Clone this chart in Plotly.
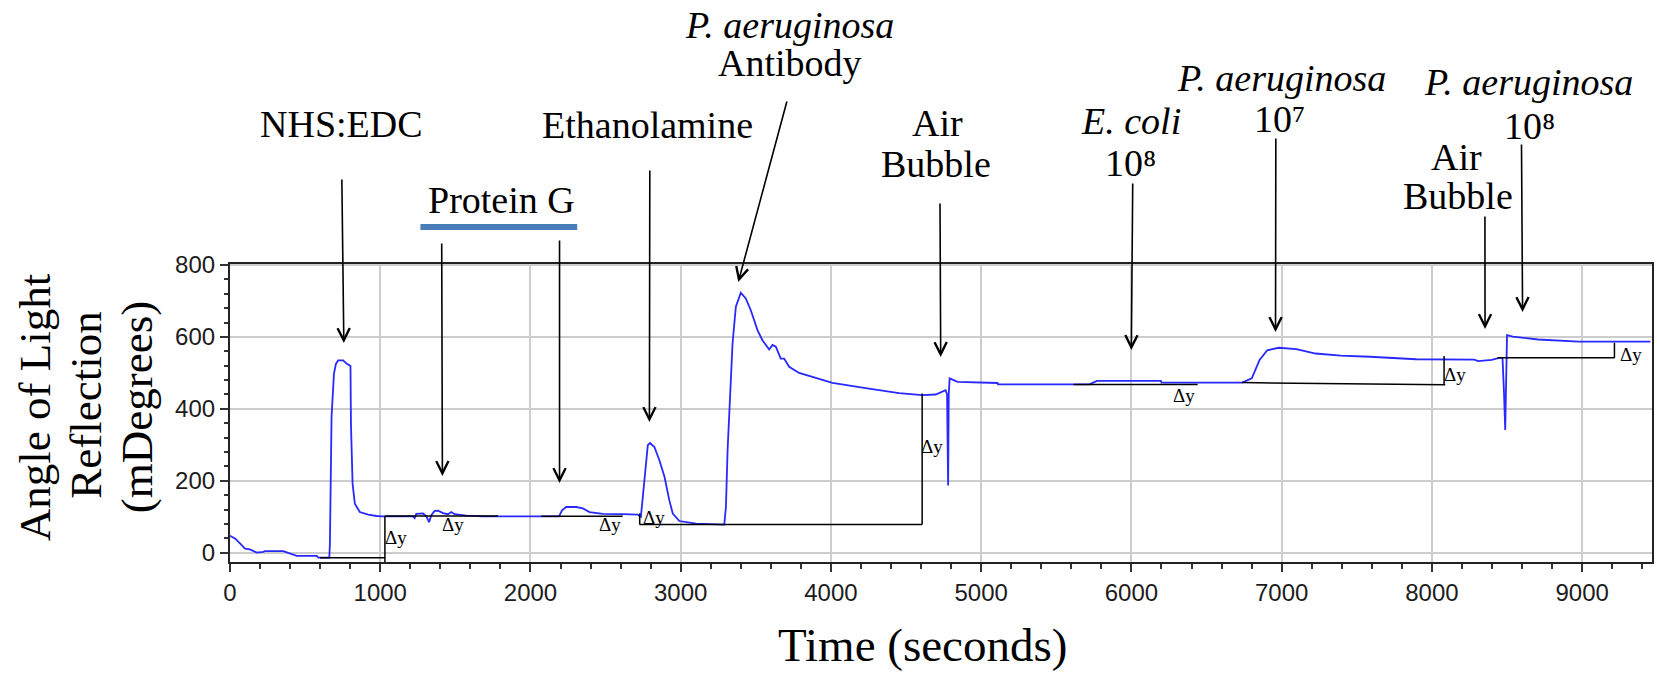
import plotly.graph_objects as go

# ---- sensorgram: time (s) vs. angle of light reflection (mDeg) ----
time_s = [0, 35, 68, 100, 133, 178, 222, 233, 355, 399, 444, 577, 588, 661,
          665, 676, 692, 705, 720, 753, 776, 802, 805, 816, 831, 864, 920, 975,
          1019, 1218, 1229, 1240, 1285, 1307, 1325, 1340, 1362, 1385, 1418,
          1451, 1473, 1495, 1573, 1683, 2060, 2190, 2210, 2238, 2304, 2349,
          2393, 2481, 2614, 2713, 2735, 2745, 2758, 2781, 2796, 2825, 2858,
          2892, 2924, 2947, 2991, 3102, 3290, 3301, 3312, 3327, 3345, 3367,
          3400, 3433, 3466, 3511, 3544, 3589, 3611, 3633, 3666, 3688, 3722,
          3788, 3899, 4010, 4231, 4453, 4608, 4697, 4763, 4773, 4776, 4780,
          4784, 4790, 4843, 5109, 5112, 5618, 5720, 5771, 6196, 6200, 6737,
          6801, 6853, 6904, 6981, 7097, 7226, 7393, 7587, 7896, 8282, 8308,
          8398, 8449, 8470, 8480, 8488, 8500, 8539, 8707, 8977, 9454]
angle_mdeg = [47, 39, 25, 11, 9, 0, 2, 4, 4, -3, -9, -9, -14, -14,
              25, 378, 498, 525, 535, 535, 526, 519, 359, 192, 136, 113, 106, 102,
              101, 101, 96, 108, 109, 101, 85, 104, 116, 117, 110,
              107, 113, 107, 103, 101, 101, 101, 118, 127, 127, 123,
              113, 108, 107, 106, 100, 140, 192, 299, 305, 294, 257,
              211, 146, 109, 88, 81, 78, 127, 285, 443, 582, 684,
              723, 707, 675, 619, 591, 565, 578, 573, 540, 540, 517,
              500, 485, 472, 458, 444, 438, 440, 452, 440, 322, 187,
              440, 485, 475, 472, 468, 468, 468, 478, 478, 473, 473,
              485, 536, 563, 570, 566, 554, 548, 545, 538, 537, 533,
              536, 542, 542, 443, 341, 605, 601, 593, 587, 587]

# ---- Δy measurement segments: (t0, v0, t1, v1) ----
dy_segments = [
    (599, -14, 1031, -14), (1031, -26, 1031, 102),
    (1031, 102, 1784, 102),
    (2072, 101, 2614, 101),
    (2727, 109, 2727, 78), (2727, 78, 4607, 78), (4607, 78, 4607, 443),
    (5616, 468, 6441, 468),
    (6737, 473, 8089, 467), (8081, 467, 8081, 547),
    (8437, 542, 9215, 542), (9215, 542, 9215, 584),
]
# Δy label anchors (t, v)
dy_label_t = [1108, 1484, 2526, 2824, 4673, 6351, 8153, 9325]
dy_label_v = [43, 79, 79, 99, 294, 438, 496, 552]

# ---- figure geometry ----
FIG_W, FIG_H = 1657, 673
M = dict(l=230, r=3, t=264, b=111)
PLOT_W = FIG_W - M["l"] - M["r"]
PLOT_H = FIG_H - M["t"] - M["b"]


def paper(xp, yp):
    """Pixel position on the page -> paper coordinates."""
    return (xp - M["l"]) / PLOT_W, (FIG_H - M["b"] - yp) / PLOT_H


SERIF = "Liberation Serif, Times New Roman, serif"
NARROW = "Liberation Sans Narrow, Arial Narrow, Liberation Sans, Arial, sans-serif"

fig = go.Figure()

fig.add_trace(go.Scatter(
    x=time_s, y=angle_mdeg, mode="lines",
    line=dict(color="#2828ff", width=1.8),
    hoverinfo="skip", showlegend=False,
))

seg_x, seg_y = [], []
for t0, v0, t1, v1 in dy_segments:
    seg_x += [t0, t1, None]
    seg_y += [v0, v1, None]
fig.add_trace(go.Scatter(
    x=seg_x, y=seg_y, mode="lines",
    line=dict(color="black", width=1.5),
    hoverinfo="skip", showlegend=False, cliponaxis=False,
))

annotations = []

# Δy labels
for t, v in zip(dy_label_t, dy_label_v):
    annotations.append(dict(
        x=t, y=v, xref="x", yref="y", text="Δy", showarrow=False,
        font=dict(family=SERIF, size=19, color="black"),
        xanchor="center", yanchor="middle",
    ))

# injection-step labels (one annotation per text line)
step_lines = [
    ("NHS:EDC", 342, 124),
    ("Protein G", 501.5, 200),
    ("Ethanolamine", 648, 124.5),
    ("<i>P. aeruginosa</i>", 790.5, 25),
    ("Antibody", 791, 62.5),
    ("Air", 938.6, 123),
    ("Bubble", 937, 164),
    ("<i>E. coli</i>", 1132.5, 121),
    ("10⁸", 1132, 162.5),
    ("<i>P. aeruginosa</i>", 1282.5, 77.5),
    ("10⁷", 1281, 119),
    ("<i>P. aeruginosa</i>", 1530, 81.7),
    ("10⁸", 1531.5, 125.7),
    ("Air", 1458, 156.7),
    ("Bubble", 1460, 195.5),
]
for text, xp, yp in step_lines:
    px, py = paper(xp, yp)
    annotations.append(dict(
        x=px, y=py, xref="paper", yref="paper", text=text, showarrow=False,
        font=dict(family=SERIF, size=38, color="black"),
        xanchor="center", yanchor="middle",
    ))

# arrows: (tail_x, tail_y, tip_x, tip_y) in page pixels
step_arrows = [
    (342, 178, 344, 343),
    (442, 242, 442.7, 476),
    (560, 239, 560, 483),
    (650.4, 169, 650, 422),
    (788, 100, 739, 282),
    (941, 202, 941.7, 357),
    (1134, 182, 1132.6, 350),
    (1277.3, 137, 1277, 332),
    (1523.3, 143, 1524.4, 312),
    (1486.7, 215, 1486.8, 329),
]
for tx, ty, hx, hy in step_arrows:
    px, py = paper(hx, hy)
    annotations.append(dict(
        x=px, y=py, xref="paper", yref="paper", text="",
        showarrow=True, ax=tx - hx, ay=ty - hy,
        arrowhead=5, arrowsize=1.5, arrowwidth=1.6, arrowcolor="black",
        standoff=0, startstandoff=0,
    ))

# axis titles
for text, xp, yp in [("Angle of Light", 35, 407), ("Reflection", 85.5, 405),
                     ("(mDegrees)", 137, 407)]:
    px, py = paper(xp, yp)
    annotations.append(dict(
        x=px, y=py, xref="paper", yref="paper", text=text, showarrow=False,
        textangle=-90, font=dict(family=SERIF, size=45, color="black"),
        xanchor="center", yanchor="middle",
    ))
px, py = paper(923, 645)
annotations.append(dict(
    x=px, y=py, xref="paper", yref="paper", text="Time (seconds)",
    showarrow=False, font=dict(family=SERIF, size=47, color="black"),
    xanchor="center", yanchor="middle",
))

# blue bar under "Protein G"
bx0, by0 = paper(420.7, 230)
bx1, by1 = paper(577.7, 224)
shapes = [dict(type="rect", xref="paper", yref="paper",
               x0=bx0, x1=bx1, y0=by0, y1=by1,
               fillcolor="#4a7ebb", line=dict(width=0))]

axis_common = dict(
    showgrid=True, gridcolor="#cdcdcd", gridwidth=2,
    showline=True, linecolor="#222222", linewidth=2.2, mirror=True,
    zeroline=False, ticks="outside", ticklen=8, tickwidth=1.5,
    tickcolor="#333333",
    tickfont=dict(family=NARROW, size=24, color="#1c1c1c"),
)

fig.update_layout(
    width=FIG_W, height=FIG_H, margin=M,
    paper_bgcolor="white", plot_bgcolor="white",
    font=dict(family=SERIF, color="black"),
    showlegend=False,
    xaxis=dict(range=[0, 9465], tick0=0, dtick=1000,
               minor=dict(dtick=200, ticks="outside", ticklen=5,
                          tickcolor="#333333", showgrid=False),
               **axis_common),
    yaxis=dict(range=[-26, 803], tick0=0, dtick=200,
               minor=dict(dtick=40, ticks="outside", ticklen=4,
                          tickcolor="#333333", showgrid=False),
               **axis_common),
    annotations=annotations,
    shapes=shapes,
)

fig.write_html("out.html")
